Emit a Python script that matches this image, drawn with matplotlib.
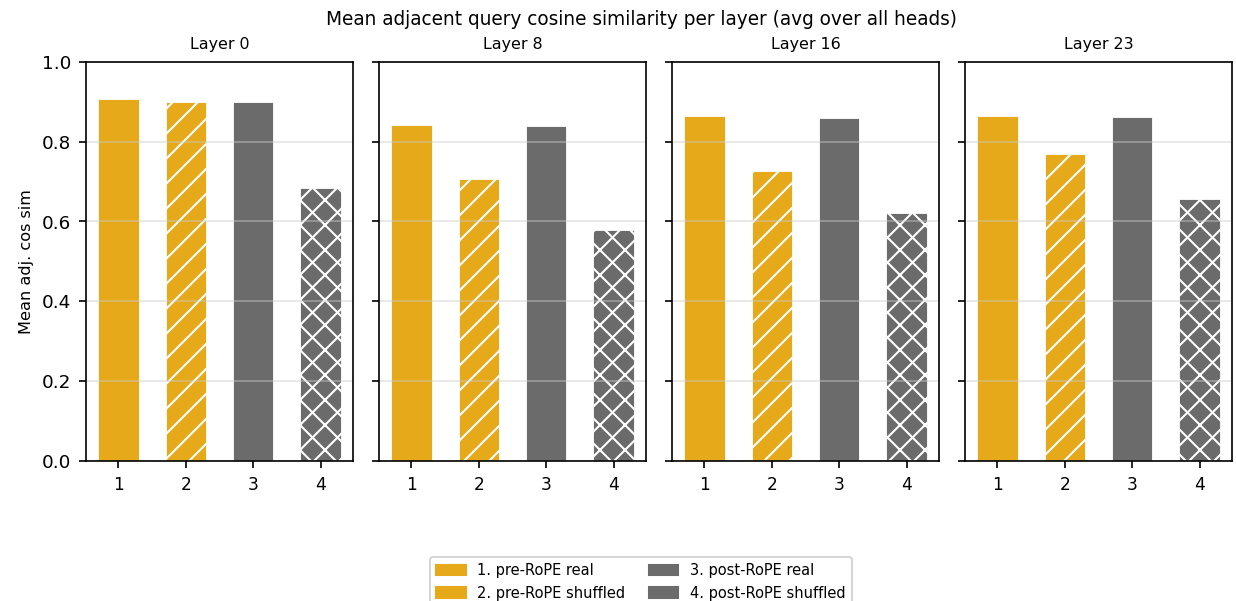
import matplotlib.pyplot as plt
from matplotlib.patches import Patch

layers = ['Layer 0', 'Layer 8', 'Layer 16', 'Layer 23']
x_pos = [1, 2, 3, 4]
pre_real = [0.907, 0.842, 0.865, 0.865]
pre_shuf = [0.900, 0.707, 0.727, 0.769]
post_real = [0.900, 0.840, 0.860, 0.862]
post_shuf = [0.684, 0.579, 0.622, 0.657]
legend_labels = ['1. pre-RoPE real', '2. pre-RoPE shuffled',
                 '3. post-RoPE real', '4. post-RoPE shuffled']

orange = '#E5A91A'
gray = '#6B6B6B'
colors = [orange, orange, gray, gray]
hatches = ['', '//', '', 'xx']

fig, axes = plt.subplots(1, 4, figsize=(8.24, 4.007), dpi=150, sharey=True)
fig.subplots_adjust(left=0.0696, right=0.9968, top=0.897, bottom=0.233, wspace=0.0974)

for i, ax in enumerate(axes):
    vals = [pre_real[i], pre_shuf[i], post_real[i], post_shuf[i]]
    for j in range(4):
        ax.bar(x_pos[j], vals[j], width=0.6, color=colors[j], hatch=hatches[j],
               edgecolor='white', linewidth=0.4)
    ax.set_title(layers[i], fontsize=7.6)
    ax.set_xticks(x_pos)
    ax.tick_params(axis='x', labelsize=8.2)
    ax.tick_params(axis='y', labelsize=8.8)
    ax.grid(True, axis='y', color='#cccccc', alpha=0.5, linewidth=0.8)
    ax.set_ylim(0, 1.0)

axes[0].set_ylabel('Mean adj. cos sim', fontsize=7.75)
fig.suptitle('Mean adjacent query cosine similarity per layer (avg over all heads)',
             fontsize=8.9, x=641 / 1236, y=0.984)

handles = [Patch(color=c) for c in colors]
fig.legend(handles, legend_labels, ncol=2, loc='upper center',
           bbox_to_anchor=(641 / 1236, 1 - 550 / 601), fontsize=7.05,
           columnspacing=1.6)

fig.savefig('out.png', dpi=150)
